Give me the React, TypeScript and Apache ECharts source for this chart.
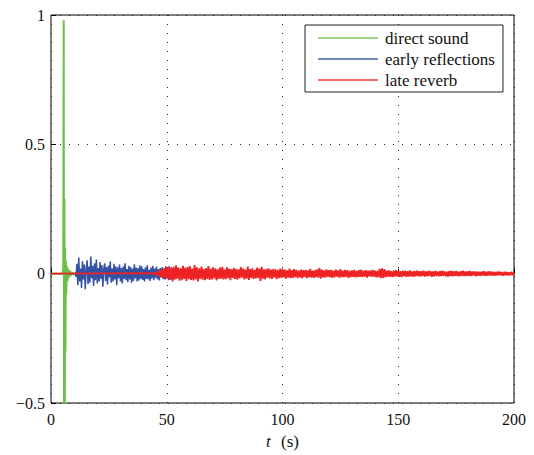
import React, { useEffect, useRef } from "react";
import * as echarts from "echarts";

// Direct sound: sample times (s) and amplitudes
const DIRECT_T = [0, 5.0, 5.3, 5.5, 5.65, 5.8, 5.95, 6.1, 6.25, 6.4, 6.6, 6.8, 7.1, 7.4, 7.8, 8.2, 8.7, 9.2, 9.7, 10.2];
const DIRECT_V = [0, 0, 0.02, 0.98, -0.8, 0.29, -0.62, 0.1, -0.3, 0.05, -0.08, 0.03, -0.03, 0.02, -0.015, 0.012, -0.008, 0.006, -0.004, 0];

// Early reflections: sampled from T0 with step DT, values in thousandths
const EARLY_T0 = 10.4;
const EARLY_DT = 0.4;
const EARLY_MILLI = [
  5, -12, 38, -45, 62, -30, 20, -55, 48, -22, 35, -60, 15, 52, -40, 28, -35, 66, -18, 30, -48, 40, -25, 55,
  -38, 22, -30, 45, -20, 33, -50, 18, 40, -28, 26, -42, 30, -15, 48, -35, 20, -30, 38, -22, 28, -45, 25, -18, 35,
  -30, 22, -38, 28, -20, 40, -25, 18, -33, 30, -22, 26, -35, 20, -28, 36, -18, 24, -30, 22, -26, 32, -20, 28, -24,
  18, -30, 25, -20, 32, -22, 15, -28, 24, -18, 30, -25, 20, -16, 27, -22, 18, -26, 22, -15, 25, -20, 17, -23, 28,
  -18, 22, -25, 15, -20, 26, -14, 19, -22, 16, -18, 20, -12, 17, -15, 18, -11, 14, -16, 12, -10, 13, -9, 11, -8, 9, -6, 4,
];

// Late reverb: silent from 0 until LATE_T0, then sampled with step LATE_DT, values in thousandths
const LATE_T0 = 44;
const LATE_DT = 0.5;
const LATE_MILLI = [
  2, -3, 5, -6, 9, -10, 14, -12, 18, -16, 22, -20,
  25, -18, 28, -24, 20, -30, 26, -22, 32, -19, 24, -27, 21, -25, 30, -20, 23, -28, 26, -21,
  28, -24, 20, -26, 33, -22, 25, -30, 21, -19, 27, -23, 18, -25, 22, -20, 29, -24, 19, -22,
  24, -18, 21, -26, 17, -20, 23, -19, 26, -22, 16, -21, 24, -17, 20, -25, 18, -16, 22, -20,
  19, -23, 17, -18, 25, -15, 20, -22, 16, -19, 27, -24, 18, -16, 21, -20, 15, -18, 23, -17,
  20, -28, 26, -19, 17, -22, 18, -15, 21, -18, 16, -20, 19, -14, 17, -21, 15, -17, 20, -16,
  18, -14, 16, -19, 13, -15, 20, -17, 14, -16, 18, -13, 15, -17, 12, -14, 16, -18, 14, -12,
  15, -17, 13, -14, 19, -15, 12, -16, 14, -13, 17, -15, 22, -19, 16, -14, 13, -15, 17, -12,
  14, -13, 15, -16, 12, -14, 16, -11, 13, -15, 18, -14, 12, -13, 15, -12, 14, -16, 11, -13,
  13, -12, 15, -14, 11, -13, 14, -12, 16, -13, 12, -11, 14, -15, 12, -10, 13, -12, 15, -11,
  12, -14, 11, -13, 19, -17, 21, -16, 18, -14, 12, -11, 13, -12, 10, -13, 12, -11, 14, -10,
  11, -12, 10, -13, 12, -9, 11, -12, 10, -11, 13, -10, 9, -12, 11, -10, 12, -9, 10, -11,
  10, -9, 12, -11, 9, -10, 11, -8, 10, -12, 9, -10, 11, -9, 8, -10, 10, -9, 11, -8,
  9, -10, 8, -11, 10, -9, 12, -10, 9, -8, 10, -9, 8, -10, 9, -8, 11, -9, 8, -9,
  9, -8, 10, -9, 8, -7, 9, -10, 8, -8, 7, -9, 8, -7, 9, -8, 7, -8, 9, -7,
  8, -7, 7, -8, 6, -7, 8, -6, 7, -7, 6, -8, 7, -6, 6, -7, 5, -6, 7, -5, 3,
];

const SERIES_NAMES = ["direct sound", "early reflections", "late reverb"];
const SERIES_COLORS = ["#6cc04a", "#3352a6", "#ee2222"];
const LEGEND_COLORS = ["#7ccc62", "#4462b0", "#f03a3a"];
const X_TICKS = [0, 50, 100, 150, 200];
const Y_TICKS = [-0.5, 0, 0.5, 1];

const FONT = "Liberation Serif";

export default function App() {
  const ref = useRef<HTMLDivElement>(null);
  useEffect(() => {
    if (!ref.current) return;
    const chart = echarts.init(ref.current, undefined, { renderer: "svg" });

    const direct = DIRECT_T.map((t, i) => [t, DIRECT_V[i]]);
    const early = EARLY_MILLI.map((v, i) => [EARLY_T0 + i * EARLY_DT, v / 1000]);
    const late = [[0, 0], ...LATE_MILLI.map((v, i) => [LATE_T0 + i * LATE_DT, v / 1000])];

    const gridLine = { show: true, lineStyle: { color: "#222", width: 1, type: [1, 8] as any } };
    const widths = [2, 1.5, 1.8];

    chart.setOption({
      animation: false,
      backgroundColor: "#fff",
      textStyle: { fontFamily: FONT },
      grid: {
        left: 51,
        top: 15,
        width: 463,
        height: 389,
        show: true,
        borderColor: "#000",
        borderWidth: 1,
        backgroundColor: "transparent",
      },
      legend: {
        left: 305,
        top: 25,
        orient: "vertical",
        data: SERIES_NAMES.map((n, i) => ({ name: n, itemStyle: { color: LEGEND_COLORS[i] } })),
        icon: "rect",
        itemWidth: 60,
        itemHeight: 1.5,
        itemGap: 4,
        padding: [4.5, 8, 3.5, 13],
        backgroundColor: "#fff",
        borderColor: "#222",
        borderWidth: 1,
        borderRadius: 0,
        textStyle: { fontFamily: FONT, fontSize: 17, color: "#111", lineHeight: 17, padding: [0, 0, 0, 2] },
        selectedMode: false,
      },
      xAxis: {
        type: "value",
        min: X_TICKS[0],
        max: X_TICKS[X_TICKS.length - 1],
        interval: 50,
        axisLine: { show: false },
        axisTick: { show: true, inside: true, length: 5, lineStyle: { color: "#000" } },
        axisLabel: { fontFamily: FONT, fontSize: 16, color: "#111", margin: 8 },
        splitLine: gridLine,
        name: "{i|t} (s)",
        nameLocation: "middle",
        nameGap: 30,
        nameTextStyle: {
          fontFamily: FONT,
          fontSize: 17,
          color: "#111",
          rich: { i: { fontFamily: FONT, fontStyle: "italic", fontSize: 17, color: "#111", padding: [0, 6, 0, 0] } },
        },
      },
      yAxis: {
        type: "value",
        min: Y_TICKS[0],
        max: Y_TICKS[Y_TICKS.length - 1],
        interval: 0.5,
        axisLine: { show: false },
        axisTick: { show: true, inside: true, length: 5, lineStyle: { color: "#000" } },
        axisLabel: {
          fontFamily: FONT,
          fontSize: 16,
          color: "#111",
          margin: 6,
          formatter: (v: number) => (v < 0 ? "\u2212" + Math.abs(v) : String(v)),
        },
        splitLine: gridLine,
      },
      series: [direct, early, late].map((d, i) => ({
        name: SERIES_NAMES[i],
        type: "line",
        data: d,
        color: SERIES_COLORS[i],
        showSymbol: false,
        lineStyle: { color: SERIES_COLORS[i], width: widths[i] },
        z: 2 + i,
      })),
    });
    return () => chart.dispose();
  }, []);
  return <div ref={ref} style={{ position: "absolute", left: 0, top: 0, width: 534, height: 455 }} />;
}
